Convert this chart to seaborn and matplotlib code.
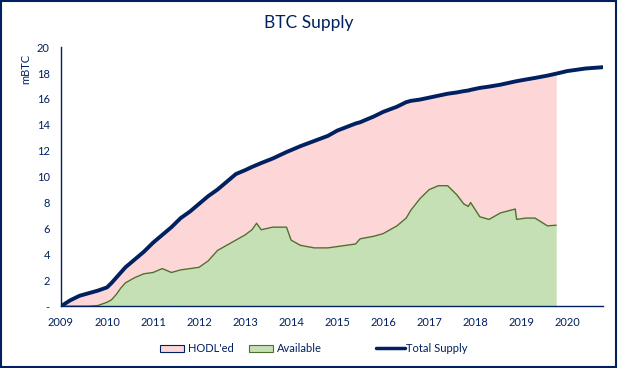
import numpy as np
import pandas as pd
import matplotlib
matplotlib.use("Agg")
import matplotlib.pyplot as plt
import seaborn as sns
from matplotlib.patches import Patch
from matplotlib.lines import Line2D

# values (millions of BTC)
years = [2009.0, 2009.2, 2009.4, 2009.6, 2009.8, 2010.0, 2010.1, 2010.2, 2010.3, 2010.4,
         2010.6, 2010.8, 2011.0, 2011.2, 2011.4, 2011.6, 2011.8, 2012.0, 2012.2, 2012.4,
         2012.6, 2012.8, 2013.0, 2013.15, 2013.25, 2013.35, 2013.6, 2013.9, 2014.0, 2014.2,
         2014.5, 2014.8, 2015.0, 2015.4, 2015.5, 2015.8, 2016.0, 2016.3, 2016.5, 2016.6,
         2016.8, 2017.0, 2017.2, 2017.4, 2017.6, 2017.75, 2017.85, 2017.9, 2018.1, 2018.3,
         2018.55, 2018.87, 2018.9, 2019.1, 2019.3, 2019.57, 2019.76,
         2020.0, 2020.4, 2020.78]
total_supply = [0, 0.45, 0.8, 1.0, 1.2, 1.45, 1.8, 2.2, 2.6, 3.0,
                3.6, 4.2, 4.9, 5.5, 6.1, 6.8, 7.3, 7.9, 8.5, 9.0,
                9.6, 10.2, 10.5, 10.75, 10.9, 11.05, 11.4, 11.9, 12.05, 12.35,
                12.75, 13.15, 13.55, 14.1, 14.2, 14.65, 15.0, 15.4, 15.75, 15.85,
                15.95, 16.1, 16.25, 16.4, 16.5, 16.6, 16.65, 16.7, 16.85, 16.95,
                17.1, 17.35, 17.37, 17.5, 17.62, 17.8, 17.95,
                18.15, 18.35, 18.45]
available = [0, 0, 0, 0, 0.05, 0.3, 0.5, 0.9, 1.4, 1.8,
             2.2, 2.5, 2.6, 2.9, 2.6, 2.8, 2.9, 3.0, 3.5, 4.3,
             4.7, 5.1, 5.5, 5.9, 6.4, 5.9, 6.1, 6.1, 5.1, 4.7,
             4.5, 4.5, 4.6, 4.8, 5.2, 5.4, 5.6, 6.2, 6.8, 7.4,
             8.3, 9.0, 9.3, 9.3, 8.6, 7.9, 7.7, 8.0, 6.9, 6.7,
             7.2, 7.5, 6.7, 6.8, 6.8, 6.2, 6.25,
             np.nan, np.nan, np.nan]
year_ticks = list(range(2009, 2021))
y_ticks = list(range(0, 21, 2))

navy = "#002060"
pink = "#fdd7d7"
green_fill = "#c5e0b4"
green_edge = "#4f6f2f"

df = pd.DataFrame({"year": years, "supply": total_supply, "available": available})
part = df.dropna()

sns.set_style("white")
plt.rcParams["font.family"] = ["Lato", "DejaVu Sans"]

fig = plt.figure(figsize=(6.18, 3.68), dpi=100)
ax = fig.add_axes([0.0987, 0.168, 0.8773, 0.704])

ax.fill_between(part["year"], part["available"], part["supply"], color=pink, lw=0)
ax.fill_between(part["year"], 0, part["available"], color=green_fill, lw=0)
ax.plot(part["year"], part["available"], color=green_edge, lw=1)
sns.lineplot(data=df, x="year", y="supply", ax=ax, color=navy, lw=2.8, legend=False)

ax.set_xlim(2009, 2020.78)
ax.set_ylim(0, 20)
ax.set_xticks(year_ticks)
ax.set_xticklabels([str(y) for y in year_ticks])
ax.set_yticks(y_ticks)
ax.set_yticklabels(["-"] + [str(v) for v in y_ticks[1:]])
ax.tick_params(axis="both", length=0, labelsize=8, colors=navy, pad=8)
ax.set_xlabel("")
ax.set_ylabel("mBTC", fontsize=8, color=navy)
ax.yaxis.set_label_coords(-0.055, 0.915)
for side in ["top", "right"]:
    ax.spines[side].set_visible(False)
for side in ["left", "bottom"]:
    ax.spines[side].set_color(navy)
    ax.spines[side].set_linewidth(1)

fig.text(0.5, 0.937, "BTC Supply", ha="center", va="center", fontsize=12.5, color=navy)

leg1 = fig.legend([Patch(facecolor=pink, edgecolor=navy, lw=0.8),
                   Patch(facecolor=green_fill, edgecolor=green_edge, lw=0.8)],
                  ["HODL'ed", "Available"], loc="center left",
                  bbox_to_anchor=(0.259, 0.052), ncol=2, frameon=False, fontsize=8,
                  handlelength=2.16, handletextpad=0.36, columnspacing=1.35,
                  borderaxespad=0, borderpad=0)
leg2 = fig.legend([Line2D([0], [0], color=navy, lw=2.5)], ["Total Supply"],
                  loc="center left", bbox_to_anchor=(0.608, 0.052), frameon=False,
                  fontsize=8, handlelength=2.6, handletextpad=0.1,
                  borderaxespad=0, borderpad=0)
for leg in [leg1, leg2]:
    for t in leg.get_texts():
        t.set_color(navy)

fig.patches.append(plt.Rectangle((0.002, 0.003), 0.995, 0.994, transform=fig.transFigure,
                                 fill=False, edgecolor=navy, lw=1.5))

fig.savefig("out.png", dpi=100)
